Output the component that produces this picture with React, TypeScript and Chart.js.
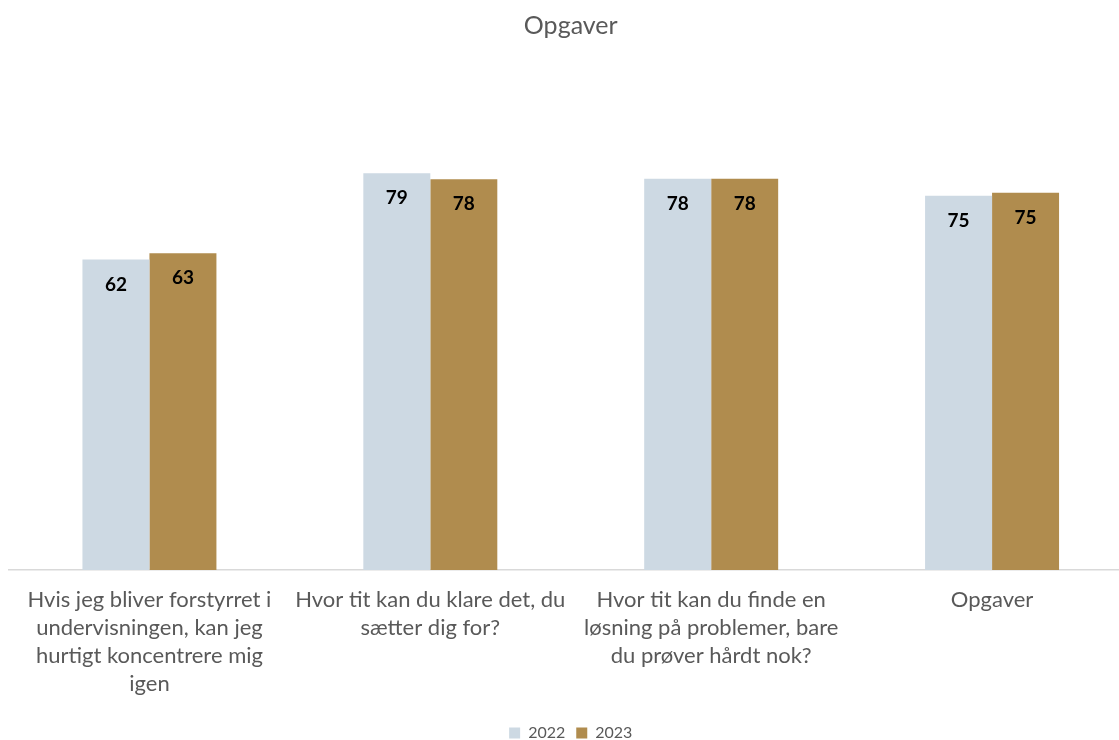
import React, { useEffect, useRef } from "react";
import { Chart, registerables } from "chart.js";

Chart.register(...registerables);

const categories: string[][] = [
  ["Hvis jeg bliver forstyrret i", "undervisningen, kan jeg", "hurtigt koncentrere mig", "igen"],
  ["Hvor tit kan du klare det, du", "sætter dig for?"],
  ["Hvor tit kan du finde en", "løsning på problemer, bare", "du prøver hårdt nok?"],
  ["Opgaver"],
];
const values2022: number[] = [62.0, 79.2, 78.1, 74.7];
const values2023: number[] = [63.2, 78.0, 78.1, 75.3];
const seriesNames: string[] = ["2022", "2023"];
const chartTitle = "Opgaver";

const FONT = "Lato, 'Open Sans', sans-serif";
const GRAY = "#595959";

const valueLabels = {
  id: "valueLabels",
  afterDatasetsDraw(chart: any) {
    const ctx = chart.ctx;
    ctx.save();
    ctx.font = `bold 19px ${FONT}`;
    ctx.fillStyle = "#000000";
    ctx.textAlign = "center";
    ctx.textBaseline = "middle";
    chart.data.datasets.forEach((ds: any, di: number) => {
      const meta = chart.getDatasetMeta(di);
      meta.data.forEach((el: any, i: number) => {
        const v = ds.data[i];
        ctx.fillText(String(Math.round(v)), el.x, el.y + 25);
      });
    });
    ctx.restore();
  },
};

export default function App() {
  const ref = useRef<HTMLCanvasElement | null>(null);
  useEffect(() => {
    if (!ref.current) return;
    const chart = new Chart(ref.current, {
      type: "bar",
      data: {
        labels: categories as any,
        datasets: [
          { label: seriesNames[0], data: values2022, backgroundColor: "#CDD9E3", categoryPercentage: 0.477, barPercentage: 1 },
          { label: seriesNames[1], data: values2023, backgroundColor: "#B08C4E", categoryPercentage: 0.477, barPercentage: 1 },
        ],
      },
      options: {
        responsive: false,
        animation: false,
        layout: { padding: { left: 9, right: 8.5, top: 0, bottom: 0 } },
        plugins: {
          title: {
            display: true,
            text: chartTitle,
            color: GRAY,
            font: { family: FONT, size: 25, weight: "normal", lineHeight: 1.2 },
            padding: { top: 11, bottom: 28 },
          },
          legend: {
            position: "bottom",
            labels: {
              color: GRAY,
              font: { family: FONT, size: 16 },
              boxWidth: 11,
              boxHeight: 11,
              padding: 11,
            },
          },
          tooltip: { enabled: false },
        },
        scales: {
          x: {
            offset: true,
            grid: { display: false, drawTicks: false },
            border: { display: true, color: "#D9D9D9", width: 1.5 },
            ticks: {
              color: GRAY,
              font: { family: FONT, size: 22, lineHeight: 28 / 22 },
              padding: 16,
              maxRotation: 0,
              minRotation: 0,
              autoSkip: false,
            },
          },
          y: {
            display: false,
            min: 0,
            max: 100,
          },
        },
      },
      plugins: [valueLabels],
    });
    return () => chart.destroy();
  }, []);
  return (
    <div style={{ position: "absolute", left: 0, top: 0, width: 1119, height: 740, overflow: "hidden", background: "#fff" }}>
      <canvas ref={ref} width={1141} height={751} style={{ display: "block" }} />
    </div>
  );
}
